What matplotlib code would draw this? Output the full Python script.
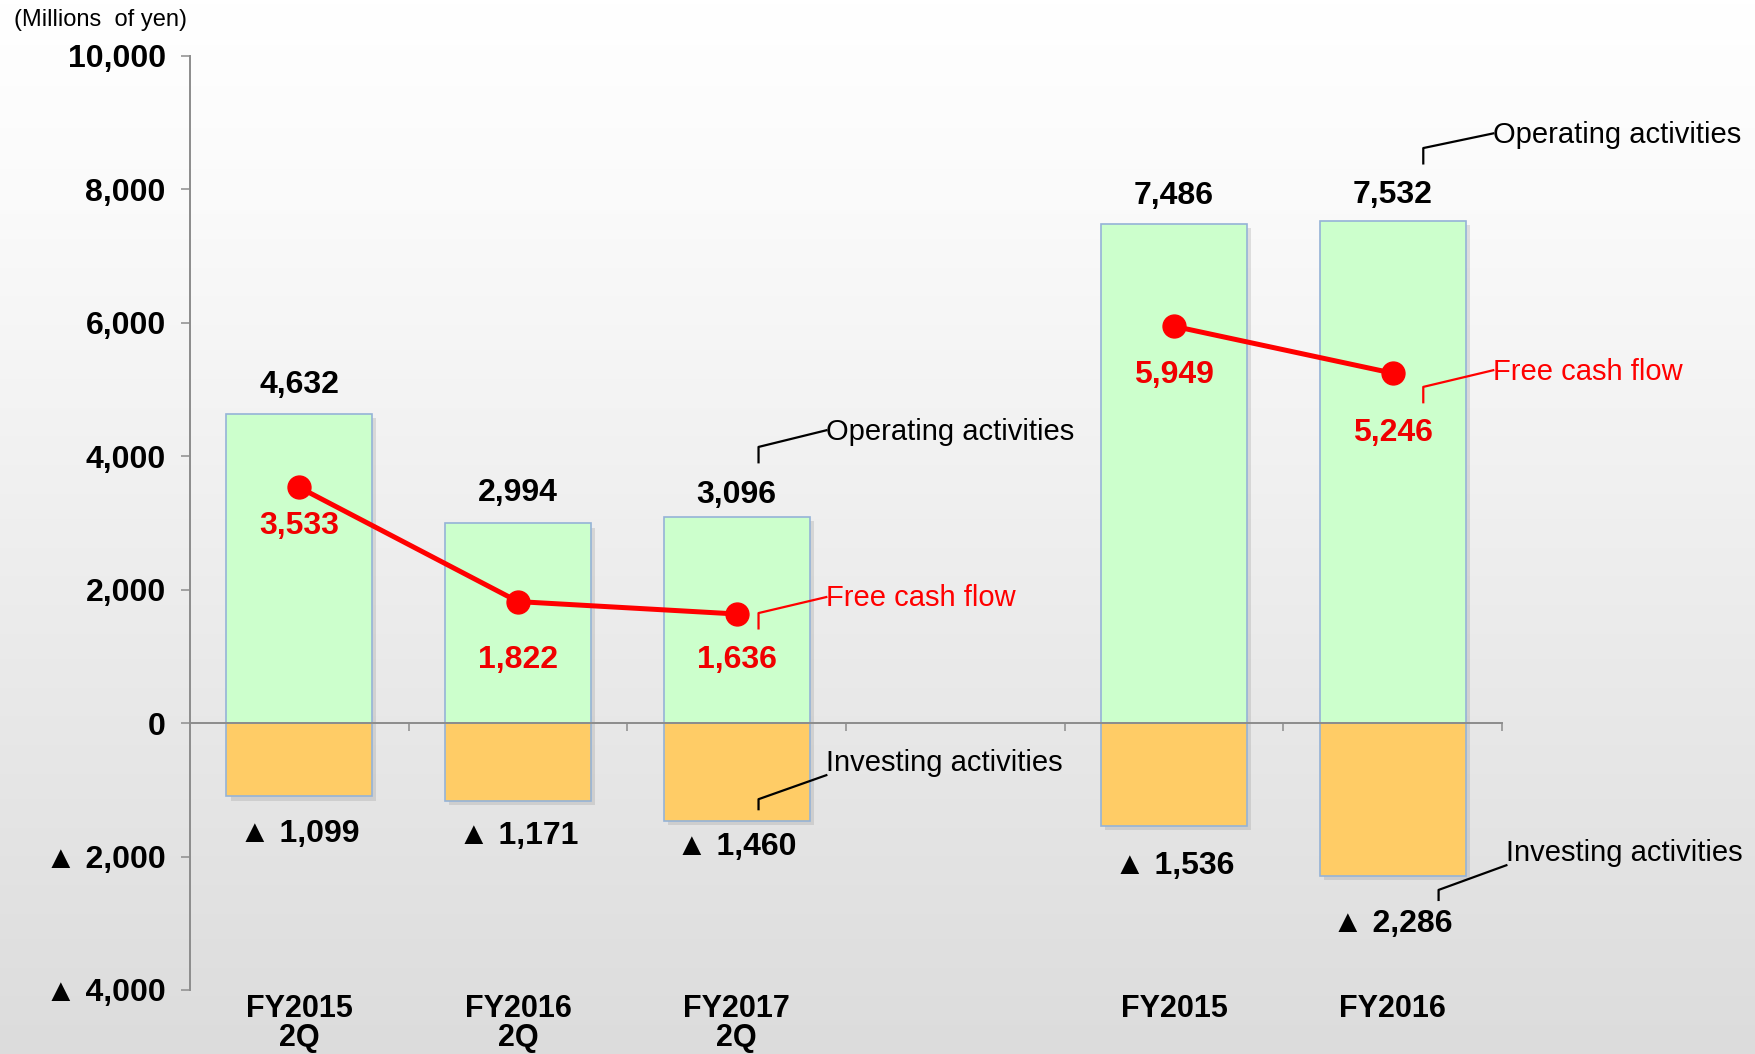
import numpy as np
import matplotlib
matplotlib.use("Agg")
import matplotlib.pyplot as plt
import matplotlib.patheffects as pe
from matplotlib.colors import LinearSegmentedColormap

# data (millions of yen)
categories = ["FY2015\n2Q", "FY2016\n2Q", "FY2017\n2Q", "FY2015", "FY2016"]
operating = [4632, 2994, 3096, 7486, 7532]
investing = [-1099, -1171, -1460, -1536, -2286]
free_cf = [3533, 1822, 1636, 5949, 5246]
yticks = [-4000, -2000, 0, 2000, 4000, 6000, 8000, 10000]
ytick_labels = ["▲ 4,000", "▲ 2,000", "0", "2,000", "4,000", "6,000", "8,000", "10,000"]

# layout: half-year group, an empty slot, then full-year group
xpos = [0, 1, 2, 4, 5]
op_off = [29, 30, 22, 28, 26]      # px above bar top
fcf_off = [39, 58, 46, 49, 60]     # px below marker
inv_off = [38, 35, 26, 40, 48]     # px below bar bottom

GREEN = "#CCFFCC"
ORANGE = "#FFCC66"
EDGE = "#95B3D7"
RED = "#FF0000"
GRAY = "#8C8C8C"

BOLD = dict(family=["Liberation Sans", "DejaVu Sans"], fontweight="bold")
NARROW = ["Liberation Sans Narrow", "Liberation Sans", "DejaVu Sans"]

fig = plt.figure(figsize=(17.55, 10.54), dpi=100)

# background gradient
bg = fig.add_axes([0, 0, 1, 1], zorder=0)
cmap = LinearSegmentedColormap.from_list("bg", [(0, "#FFFFFF"), (0.2, "#FAFAFA"), (1, "#DCDCDC")])
bg.imshow(np.linspace(0, 1, 256).reshape(-1, 1), aspect="auto", cmap=cmap)
bg.axis("off")

ax = fig.add_axes([190 / 1755, 1 - 990 / 1054, 1312 / 1755, 934 / 1054], zorder=1)
ax.patch.set_alpha(0)

shadow = [pe.SimplePatchShadow(offset=(3, -3), shadow_rgbFace="#808080", alpha=0.22), pe.Normal()]
ax.bar(xpos, operating, width=0.667, color=GREEN, edgecolor=EDGE, linewidth=1.2,
       path_effects=shadow, zorder=2)
ax.bar(xpos, investing, width=0.667, color=ORANGE, edgecolor=EDGE, linewidth=1.2,
       path_effects=shadow, zorder=2)

# free cash flow lines: one per group
for sl in (slice(0, 3), slice(3, 5)):
    ax.plot(xpos[sl], free_cf[sl], color=RED, lw=3.6, marker="o", ms=16.5, zorder=4)

px = 0.72  # points per pixel at dpi 100
for i, x in enumerate(xpos):
    ax.annotate(f"{operating[i]:,}", (x, operating[i]), xytext=(0, op_off[i] * px),
                textcoords="offset points", ha="center", va="center", fontsize=23,
                color="black", **BOLD)
    ax.annotate(f"{free_cf[i]:,}", (x, free_cf[i]), xytext=(0, -fcf_off[i] * px),
                textcoords="offset points", ha="center", va="center", fontsize=23,
                color="#F00000", zorder=5, **BOLD)
    ax.annotate(f"▲ {-investing[i]:,}", (x, investing[i]), xytext=(0, -inv_off[i] * px),
                textcoords="offset points", ha="center", va="center", fontsize=23,
                color="black", **BOLD)
    ax.text(x, -0.004, categories[i], transform=ax.get_xaxis_transform(), ha="center",
            va="top", fontsize=22, linespacing=0.98, multialignment="center", **BOLD)

# call-outs: text, colour, leader x, leader y bottom, kink y, text x, leader end y, text y
callouts = [
    ("Operating activities", "black", 2.10, 3910, 4140, 2.41, 4390, 4360),
    ("Free cash flow", RED, 2.10, 1420, 1650, 2.41, 1890, 1875),
    ("Investing activities", "black", 2.10, -1290, -1140, 2.41, -780, -600),
    ("Operating activities", "black", 5.14, 8390, 8620, 5.46, 8840, 8815),
    ("Free cash flow", RED, 5.14, 4810, 5040, 5.46, 5290, 5265),
    ("Investing activities", "black", 5.21, -2650, -2500, 5.52, -2130, -1950),
]
for txt, col, lx, y0, y1, tx, y2, ty in callouts:
    ax.plot([lx, lx, tx], [y0, y1, y2], color=col, lw=1.6, clip_on=False, zorder=5)
    ax.text(tx, ty, txt, color=col, fontsize=21, family=NARROW, ha="left",
            va="center", clip_on=False, zorder=5)

ax.set_xlim(-0.5, 5.5)
ax.set_ylim(-4000, 10000)
ax.set_yticks(yticks)
ax.set_yticklabels(ytick_labels, fontsize=23, **BOLD)
ax.set_xticks([0.5, 1.5, 2.5, 3.5, 4.5, 5.5])
ax.set_xticklabels([])
ax.tick_params(axis="y", direction="out", length=6.5, width=1.1, color=GRAY, pad=11)
ax.tick_params(axis="x", direction="out", length=5.5, width=1.1, color=GRAY)

for s in ("top", "right"):
    ax.spines[s].set_visible(False)
ax.spines["bottom"].set_position(("data", 0))
ax.spines["bottom"].set_color(GRAY)
ax.spines["bottom"].set_linewidth(1.4)
ax.spines["bottom"].set_zorder(3)
ax.spines["left"].set_color(GRAY)
ax.spines["left"].set_linewidth(1.4)

fig.text(14 / 1755, 1 - 20 / 1054, "(Millions  of yen)", fontsize=17, family=NARROW,
         ha="left", va="center", zorder=2)

fig.savefig("out.png", dpi=100)
